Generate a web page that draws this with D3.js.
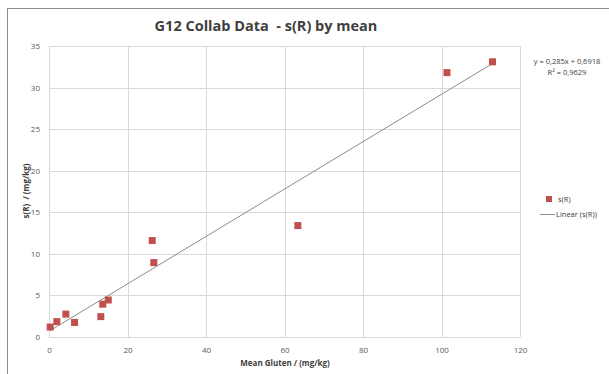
<!DOCTYPE html>
<html>
<head>
<meta charset="utf-8">
<script src="https://cdn.jsdelivr.net/npm/d3@7"></script>
<style>
  body { margin: 0; background: #fff; }
  text { font-family: "Open Sans", "DejaVu Sans", sans-serif; white-space: pre; }
</style>
</head>
<body>
<div id="chart"></div>
<script>
// Data
const meanGluten = [0.3, 2.0, 4.3, 6.5, 13.2, 13.7, 15.1, 26.7, 26.3, 63.4, 101.4, 113.0];
const sR = [1.2, 1.85, 2.75, 1.75, 2.45, 3.95, 4.45, 8.95, 11.6, 13.4, 31.8, 33.1];
const xTicks = [0, 20, 40, 60, 80, 100, 120];
const yTicks = [0, 5, 10, 15, 20, 25, 30, 35];
const slope = 0.285, intercept = 0.6918;
const eqLines = ["y = 0,285x + 0,6918", "R\u00b2 = 0,9629"];
const legendLabels = ["s(R)", "Linear (s(R))"];

const W = 609, H = 374;
const plot = { left: 49, right: 520, top: 46, bottom: 337 };

const svg = d3.select("#chart").append("svg")
    .attr("width", W)
    .attr("height", H);

// outer chart frame (runs off the picture at the right and bottom)
svg.append("rect")
    .attr("x", 7.5).attr("y", 8.5)
    .attr("width", W).attr("height", H)
    .attr("fill", "#fff")
    .attr("stroke", "#8c8c8c");

const x = d3.scaleLinear().domain([0, 120]).range([plot.left, plot.right]);
const y = d3.scaleLinear().domain([0, 35]).range([plot.bottom, plot.top]);

// gridlines
svg.append("g")
    .selectAll("line.v")
    .data(xTicks)
    .enter().append("line")
    .attr("x1", d => Math.round(x(d)) + 0.5).attr("x2", d => Math.round(x(d)) + 0.5)
    .attr("y1", plot.top).attr("y2", plot.bottom)
    .attr("stroke", "#d9d9d9");

svg.append("g")
    .selectAll("line.h")
    .data(yTicks)
    .enter().append("line")
    .attr("x1", plot.left).attr("x2", plot.right)
    .attr("y1", d => Math.round(y(d)) + 0.5).attr("y2", d => Math.round(y(d)) + 0.5)
    .attr("stroke", "#d9d9d9");

// axes
const xAxis = svg.append("g")
    .attr("transform", `translate(0,${plot.bottom})`)
    .call(d3.axisBottom(x).tickValues(xTicks).tickSize(0).tickPadding(10));
const yAxis = svg.append("g")
    .attr("transform", `translate(${plot.left},0)`)
    .call(d3.axisLeft(y).tickValues(yTicks).tickSize(0).tickPadding(9));

[xAxis, yAxis].forEach(a => {
    a.select(".domain").remove();
    a.selectAll("text")
        .style("font-family", "'Open Sans', sans-serif")
        .style("font-size", "8px")
        .attr("fill", "#595959");
});

// trend line
const xr = d3.extent(meanGluten);
svg.append("line")
    .attr("x1", x(xr[0])).attr("y1", y(slope * xr[0] + intercept))
    .attr("x2", x(xr[1])).attr("y2", y(slope * xr[1] + intercept))
    .attr("stroke", "#8c8c8c")
    .attr("stroke-width", 1);

// points
svg.append("g")
    .selectAll("rect")
    .data(meanGluten.map((d, i) => [d, sR[i]]))
    .enter().append("rect")
    .attr("x", d => x(d[0]) - 3.5)
    .attr("y", d => y(d[1]) - 3.5)
    .attr("width", 7)
    .attr("height", 7)
    .attr("fill", "#c0504d");

// title
svg.append("text")
    .attr("x", 266)
    .attr("y", 31)
    .attr("text-anchor", "middle")
    .style("font-size", "14.5px")
    .style("font-weight", "bold")
    .attr("fill", "#404040")
    .text("G12 Collab Data  - s(R) by mean");

// axis titles
svg.append("text")
    .attr("x", 285)
    .attr("y", 366)
    .attr("text-anchor", "middle")
    .style("font-size", "8px")
    .style("font-weight", "bold")
    .attr("fill", "#404040")
    .text("Mean Gluten / (mg/kg)");

svg.append("text")
    .attr("transform", "translate(29,191) rotate(-90)")
    .attr("text-anchor", "middle")
    .style("font-size", "8px")
    .style("font-weight", "bold")
    .attr("fill", "#404040")
    .text("s(R)  / (mg/kg)");

// equation
svg.append("g")
    .selectAll("text")
    .data(eqLines)
    .enter().append("text")
    .attr("x", 567)
    .attr("y", (d, i) => 64 + i * 11)
    .attr("text-anchor", "middle")
    .style("font-size", "7.5px")
    .attr("fill", "#404040")
    .text(d => d);

// legend
const legend = svg.append("g").attr("transform", "translate(540,199)");
legend.append("rect")
    .attr("x", 6).attr("y", -3).attr("width", 6).attr("height", 6)
    .attr("fill", "#c0504d");
legend.append("line")
    .attr("x1", 0).attr("x2", 15).attr("y1", 15.5).attr("y2", 15.5)
    .attr("stroke", "#8c8c8c");
legend.selectAll("text")
    .data(legendLabels)
    .enter().append("text")
    .attr("x", (d, i) => i === 0 ? 18 : 16)
    .attr("y", (d, i) => 3 + i * 15)
    .style("font-size", "7.5px")
    .attr("fill", "#404040")
    .text(d => d);
</script>
</body>
</html>
